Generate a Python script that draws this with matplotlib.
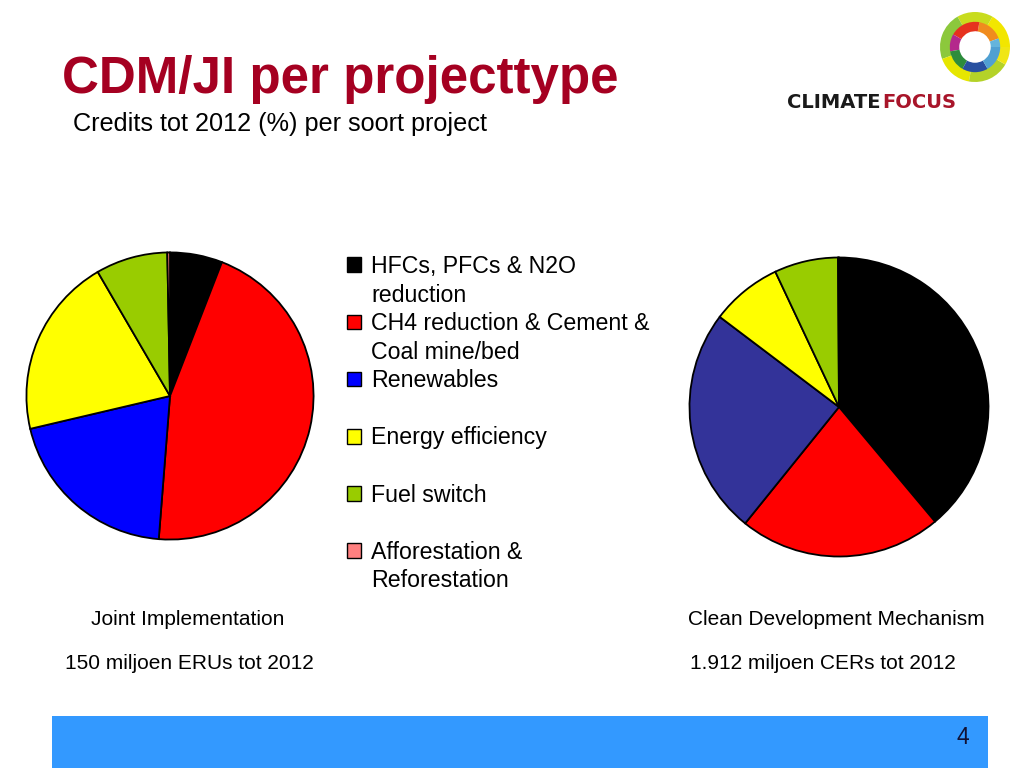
import matplotlib
matplotlib.use('Agg')
import matplotlib.pyplot as plt
from matplotlib.patches import Patch, Rectangle, Wedge

# ========== data ==========
categories = ['HFCs, PFCs & N2O\nreduction', 'CH4 reduction & Cement &\nCoal mine/bed',
              'Renewables', 'Energy efficiency', 'Fuel switch', 'Afforestation &\nReforestation']
ji_share = [5.9, 45.4, 20.1, 20.3, 8.1, 0.3]      # Joint Implementation (%)
cdm_share = [38.9, 21.9, 24.5, 7.7, 6.9, 0.1]     # Clean Development Mechanism (%)
ji_colors = ['#000000', '#FF0000', '#0000FF', '#FFFF00', '#99CC00', '#FF8080']
cdm_colors = ['#000000', '#FF0000', '#333399', '#FFFF00', '#99CC00', '#FF8080']

title = 'CDM/JI per projecttype'
subtitle = 'Credits tot 2012 (%) per soort project'
ji_name, ji_total = 'Joint Implementation', '150 miljoen ERUs tot 2012'
cdm_name, cdm_total = 'Clean Development Mechanism', '1.912 miljoen CERs tot 2012'

W, H = 1024, 768
fig = plt.figure(figsize=(W / 100, H / 100), dpi=100)
fig.patch.set_facecolor('white')


def px_axes(x0, y0, w, h):
    # axes from pixel box (top-left origin)
    return fig.add_axes([x0 / W, 1 - (y0 + h) / H, w / W, h / H])


def fx(x):
    return x / W


def fy(y):
    return 1 - y / H


sans = ['Liberation Sans', 'DejaVu Sans']
narrow = ['Liberation Sans Narrow', 'Liberation Sans', 'DejaVu Sans']

# ========== pies ==========
for box, vals, cols in [((25, 251, 290, 290), ji_share, ji_colors),
                        ((688, 256, 302, 302), cdm_share, cdm_colors)]:
    ax = px_axes(*box)
    ax.pie(vals, colors=cols, startangle=90, counterclock=False,
           wedgeprops=dict(edgecolor='black', linewidth=1.3))
    ax.set_xlim(-1.01, 1.01)
    ax.set_ylim(-1.01, 1.01)
    ax.set_aspect('equal')
    ax.axis('off')

# ========== legend (one row per text line) ==========
handles, labels = [], []
for cat, col in zip(categories, ji_colors):
    lines = cat.split('\n')
    if len(lines) == 1:
        lines.append(' ')
    handles.append(Patch(facecolor=col, edgecolor='black', linewidth=1.0))
    labels.append(lines[0])
    handles.append(Patch(facecolor='none', edgecolor='none'))
    labels.append(lines[1])

fig.legend(handles, labels, loc='upper left', bbox_to_anchor=(fx(347), fy(255)),
           frameon=False, prop={'family': sans, 'size': 16.7},
           handlelength=0.6, handleheight=0.6, handletextpad=0.43,
           labelspacing=0.24, borderpad=0, borderaxespad=0)

# ========== texts ==========
fig.text(fx(62), fy(93), title, fontsize=36.8, fontweight='bold', color='#A50021',
         family=sans, va='baseline', ha='left')
fig.text(fx(73), fy(131), subtitle, fontsize=18.2, color='black',
         family=sans, va='baseline', ha='left')

fig.text(fx(188), fy(625), ji_name, fontsize=15, family=narrow, va='baseline', ha='center')
fig.text(fx(189), fy(669), ji_total, fontsize=15, family=narrow, va='baseline', ha='center')
fig.text(fx(836), fy(625), cdm_name, fontsize=15, family=narrow, va='baseline', ha='center')
fig.text(fx(823), fy(669), cdm_total, fontsize=15, family=narrow, va='baseline', ha='center')

# ========== footer bar ==========
bar = fig.add_axes([0, 0, 1, 1], zorder=-1)
bar.set_xlim(0, W)
bar.set_ylim(H, 0)
bar.axis('off')
bar.add_patch(Rectangle((52, 716), 936, 52, facecolor='#3399FF', edgecolor='none'))
bar.text(963, 744, '4', fontsize=16.5, family=sans, ha='center', va='baseline', color='#111133')

# ========== logo ==========
logo = px_axes(940, 12, 70, 70)
logo.set_xlim(-1, 1)
logo.set_ylim(-1, 1)
logo.set_aspect('equal')
logo.axis('off')
outer = [(0, 60, '#F2E600'), (60, 120, '#C8DC1E'), (120, 200, '#8CC83C'),
         (200, 260, '#E6E600'), (260, 330, '#B4D228'), (330, 360, '#F0E614')]
inner = [(20, 80, '#F08C1E'), (80, 150, '#E6321E'), (150, 190, '#B4288C'),
         (190, 240, '#2D8C3C'), (240, 300, '#2850A0'), (300, 360, '#50A0D2'), (0, 20, '#64B4DC')]
for t1, t2, c in outer:
    logo.add_patch(Wedge((0, 0), 1.0, t1, t2, width=0.3, facecolor=c, edgecolor='none'))
for t1, t2, c in inner:
    logo.add_patch(Wedge((0, 0), 0.72, t1, t2, width=0.27, facecolor=c, edgecolor='none'))

fig.text(fx(881), fy(108), 'CLIMATE', fontsize=14, fontweight='bold', color='#1A1A1A',
         family=['DejaVu Sans'], va='baseline', ha='right')
fig.text(fx(882), fy(108), 'FOCUS', fontsize=14, fontweight='bold', color='#A8152A',
         family=['DejaVu Sans'], va='baseline', ha='left')

fig.savefig('out.png', dpi=100, facecolor='white')
